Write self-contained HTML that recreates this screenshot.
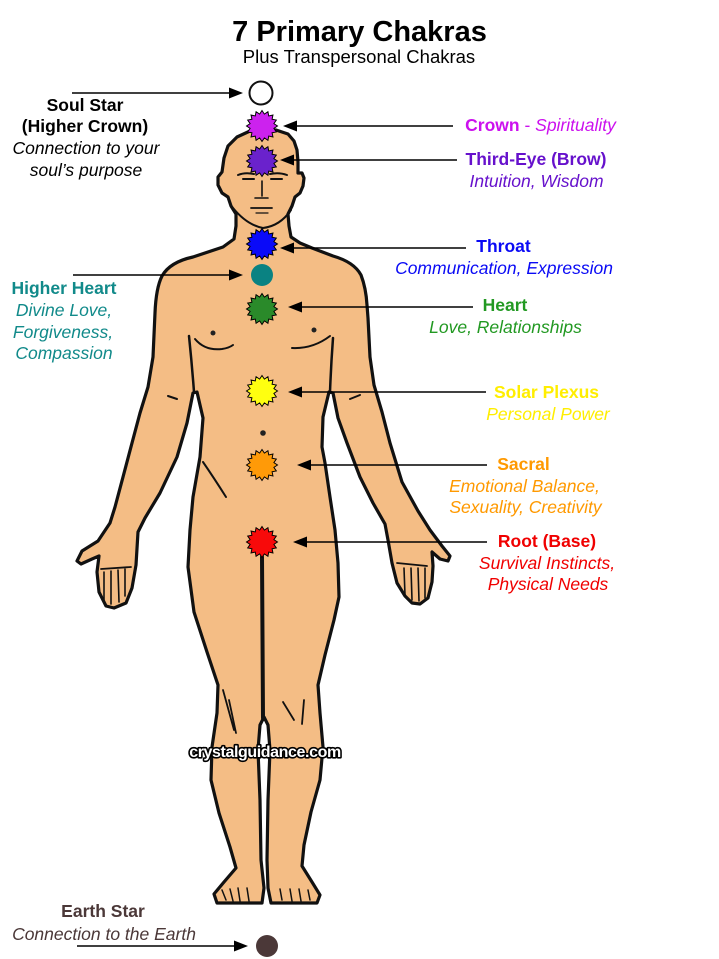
<!DOCTYPE html>
<html>
<head>
<meta charset="utf-8">
<style>
  html,body{margin:0;padding:0;background:#fff;}
  svg{display:block;}
  text{font-family:"Liberation Sans", Arial, sans-serif;}
</style>
</head>
<body>
<svg width="719" height="959" viewBox="0 0 719 959" xmlns="http://www.w3.org/2000/svg">
  <defs>
    <polygon id="star" stroke="#000" stroke-width="1" stroke-linejoin="miter"
      points="16,0 12.26,2.44 14.78,6.12 10.39,6.94 11.31,11.31 6.94,10.39 6.12,14.78 2.44,12.26 0,16 -2.44,12.26 -6.12,14.78 -6.94,10.39 -11.31,11.31 -10.39,6.94 -14.78,6.12 -12.26,2.44 -16,0 -12.26,-2.44 -14.78,-6.12 -10.39,-6.94 -11.31,-11.31 -6.94,-10.39 -6.12,-14.78 -2.44,-12.26 0,-16 2.44,-12.26 6.12,-14.78 6.94,-10.39 11.31,-11.31 10.39,-6.94 14.78,-6.12 12.26,-2.44"/>
  </defs>
  <rect width="719" height="959" fill="#fff"/>

  <!-- Body -->
  <path fill="#F4BD85" stroke="#111" stroke-width="3.2" stroke-linejoin="round"
    d="M263,130 L276,130 L288,134 L294,141 L297,150 L298,162 L298,173 L302,173 L304,178 L303,186 L300,193 L295,197 L292,206 L288,214 L289,226 L291,237 L300,243 L312,248 L333,256 Q354,262 361,275 Q366,288 367,305 L368,318 L370,357 L374,385 L382,412 L390,443 L402,482 L418,511 L430,530 L442,546 L450,556 L448,561 L440,559 L432,552 L433,566 L432,582 L428,598 L420,604 L412,603 L405,596 L397,583 L392,563 L388,540 L385,524 L373,503 L360,477 L347,443 L338,418 L333,393 L329,392 L323,417 L322,447 L325,463 L330,497 L335,530 L338,563 L339,597 L334,620 L325,655 L318,685 L320,713 L323,747 L320,780 L311,812 L304,845 L302,866 L312,882 L320,895 L317,903 L271,903 L268,888 L267,860 L268,800 L270,750 L268,725 L264,717 L260,725 L258,750 L260,800 L261,860 L264,888 L262,903 L217,903 L214,894 L224,882 L236,868 L230,847 L219,813 L211,780 L212,747 L217,713 L218,685 L207,652 L194,612 L188,567 L190,530 L193,497 L200,457 L203,418 L197,392 L193,393 L187,423 L177,457 L160,493 L145,518 L138,532 L136,565 L132,588 L126,603 L114,608 L106,606 L99,592 L97,572 L99,556 L92,559 L81,564 L77,561 L82,551 L98,541 L110,523 L115,507 L123,477 L132,443 L140,413 L148,387 L153,357 L155,313 Q156,288 162,276 Q170,262 193,257 L223,247 L234,239 L236,226 L236,214 L231,206 L228,197 L222,193 L218,185 L218,177 L222,172 L224,158 L228,146 L237,137 L250,131 Z"/>

  <!-- internal body lines -->
  <g fill="none" stroke="#111" stroke-linecap="round">
    <path d="M233,208 Q247,225 263,228 Q280,226 291,210" stroke-width="2"/>
    <path d="M262,557 L263,718" stroke-width="4"/>
    <path d="M189,336 Q192,365 194,392" stroke-width="2.5"/>
    <path d="M333,338 Q331,365 330,392" stroke-width="2.5"/>
    <path d="M195,339 Q205,351 222,349 Q229,348 233,345" stroke-width="2"/>
    <path d="M292,348 Q313,349 330,336" stroke-width="2"/>
    <path d="M168,396 L177,399" stroke-width="2"/>
    <path d="M350,399 L360,395" stroke-width="2"/>
    <path d="M203,462 Q214,478 226,497" stroke-width="2"/>
    <path d="M223,690 L234,730 M229,700 L236,733" stroke-width="1.8"/>
    <path d="M283,702 L294,720 M304,700 L302,724" stroke-width="1.8"/>
    <!-- face -->
    <path d="M238,175 Q245,172 254,174" stroke-width="2"/>
    <path d="M270,174 Q279,172 287,175" stroke-width="2"/>
    <path d="M243,179 L254,179 M271,179 L282,179" stroke-width="2"/>
    <path d="M262,181 L262,196 M255,198 L268,198" stroke-width="1.6"/>
    <path d="M251,208 L272,208" stroke-width="1.8"/>
    <path d="M256,213 L268,213" stroke-width="1.2"/>
    <!-- left hand fingers -->
    <path d="M101,569 L131,567" stroke-width="1.8"/>
    <path d="M104,572 L104,600 M111,571 L111,604 M118,570 L119,602 M125,569 L125,596" stroke-width="1.6"/>
    <!-- right hand fingers -->
    <path d="M397,563 L427,566" stroke-width="1.8"/>
    <path d="M404,568 L405,595 M411,568 L412,600 M418,568 L419,601 M425,568 L425,598" stroke-width="1.6"/>
    <!-- toes -->
    <path d="M222,890 L226,900 M230,889 L233,901 M238,888 L240,901 M247,888 L249,901" stroke-width="1.5"/>
    <path d="M280,889 L282,900 M290,889 L292,901 M299,889 L301,901 M308,890 L310,900" stroke-width="1.5"/>
  </g>
  <g fill="#222">
    <circle cx="213" cy="333" r="2.5"/>
    <circle cx="314" cy="330" r="2.5"/>
    <circle cx="263" cy="433" r="2.8"/>
  </g>

  <!-- Chakras -->
  <circle cx="261" cy="93" r="11.5" fill="#fff" stroke="#111" stroke-width="2"/>
  <use href="#star" transform="translate(262,126) scale(0.97)" fill="#CC22EE"/>
  <use href="#star" transform="translate(262,161) scale(0.97)" fill="#6A22CC"/>
  <use href="#star" transform="translate(262,244) scale(0.97)" fill="#0A0AF8"/>
  <circle cx="262" cy="275" r="11" fill="#0A8282"/>
  <use href="#star" transform="translate(262,309) scale(0.97)" fill="#2A8A2A"/>
  <use href="#star" transform="translate(262,391) scale(0.97)" fill="#FFFF10"/>
  <use href="#star" transform="translate(262,465) scale(0.97)" fill="#FF9A08"/>
  <use href="#star" transform="translate(262,542) scale(0.97)" fill="#F80A0A"/>
  <circle cx="267" cy="946" r="11" fill="#4B3838"/>

  <!-- Arrows -->
  <g stroke="#000" stroke-width="1.4">
    <line x1="72" y1="93" x2="232" y2="93"/>
    <line x1="295" y1="126" x2="453" y2="126"/>
    <line x1="292" y1="160" x2="457" y2="160"/>
    <line x1="292" y1="248" x2="466" y2="248"/>
    <line x1="73" y1="275" x2="232" y2="275"/>
    <line x1="300" y1="307" x2="473" y2="307"/>
    <line x1="300" y1="392" x2="486" y2="392"/>
    <line x1="309" y1="465" x2="487" y2="465"/>
    <line x1="305" y1="542" x2="487" y2="542"/>
    <line x1="77" y1="946" x2="237" y2="946"/>
  </g>
  <g fill="#000">
    <polygon points="243,93 229,87.5 229,98.5"/>
    <polygon points="283,126 297,120.5 297,131.5"/>
    <polygon points="280,160 294,154.5 294,165.5"/>
    <polygon points="280,248 294,242.5 294,253.5"/>
    <polygon points="243,275 229,269.5 229,280.5"/>
    <polygon points="288,307 302,301.5 302,312.5"/>
    <polygon points="288,392 302,386.5 302,397.5"/>
    <polygon points="297,465 311,459.5 311,470.5"/>
    <polygon points="293,542 307,536.5 307,547.5"/>
    <polygon points="248,946 234,940.5 234,951.5"/>
  </g>

  <!-- Title -->
  <text x="359.5" y="41" font-size="29" font-weight="bold" text-anchor="middle" fill="#000">7 Primary Chakras</text>
  <text x="359" y="63" font-size="18.5" text-anchor="middle" fill="#000">Plus Transpersonal Chakras</text>

  <!-- Left labels -->
  <g font-size="17.5" text-anchor="middle" fill="#000">
    <text x="85" y="111" font-weight="bold">Soul Star</text>
    <text x="85" y="132" font-weight="bold">(Higher Crown)</text>
    <text x="86" y="154" font-style="italic">Connection to your</text>
    <text x="86" y="176" font-style="italic">soul’s purpose</text>
  </g>
  <g font-size="17.5" text-anchor="middle" fill="#118A8A">
    <text x="64" y="294" font-weight="bold">Higher Heart</text>
    <text x="64" y="316" font-style="italic">Divine Love,</text>
    <text x="63" y="338" font-style="italic">Forgiveness,</text>
    <text x="64" y="359" font-style="italic">Compassion</text>
  </g>
  <g font-size="17.5" text-anchor="middle" fill="#4B3838">
    <text x="103" y="917" font-weight="bold">Earth Star</text>
    <text x="104" y="940" font-style="italic">Connection to the Earth</text>
  </g>

  <!-- Right labels -->
  <g font-size="17.5" text-anchor="middle">
    <text x="540.5" y="131" fill="#CC11EE"><tspan font-weight="bold">Crown</tspan> - <tspan font-style="italic">Spirituality</tspan></text>
    <text x="536" y="165" fill="#6611CC" font-weight="bold">Third-Eye (Brow)</text>
    <text x="536.5" y="187" fill="#6611CC" font-style="italic">Intuition, Wisdom</text>
    <text x="503.5" y="252" fill="#0A0AF5" font-weight="bold">Throat</text>
    <text x="504" y="274" fill="#0A0AF5" font-style="italic">Communication, Expression</text>
    <text x="505" y="311" fill="#229922" font-weight="bold">Heart</text>
    <text x="505.5" y="333" fill="#229922" font-style="italic">Love, Relationships</text>
    <text x="546.5" y="398" fill="#FFEE00" font-weight="bold">Solar Plexus</text>
    <text x="548" y="420" fill="#FFEE00" font-style="italic">Personal Power</text>
    <text x="523.5" y="470" fill="#FF9900" font-weight="bold">Sacral</text>
    <text x="524.5" y="492" fill="#FF9900" font-style="italic">Emotional Balance,</text>
    <text x="525.5" y="513" fill="#FF9900" font-style="italic">Sexuality, Creativity</text>
    <text x="547" y="547" fill="#F00000" font-weight="bold">Root (Base)</text>
    <text x="547" y="569" fill="#F00000" font-style="italic">Survival Instincts,</text>
    <text x="548" y="590" fill="#F00000" font-style="italic">Physical Needs</text>
  </g>

  <!-- Watermark -->
  <text x="265" y="757" font-size="16" font-weight="bold" text-anchor="middle" fill="#fff" stroke="#000" stroke-width="3.2" stroke-linejoin="round" paint-order="stroke" letter-spacing="-0.4">crystalguidance.com</text>
</svg>
</body>
</html>
